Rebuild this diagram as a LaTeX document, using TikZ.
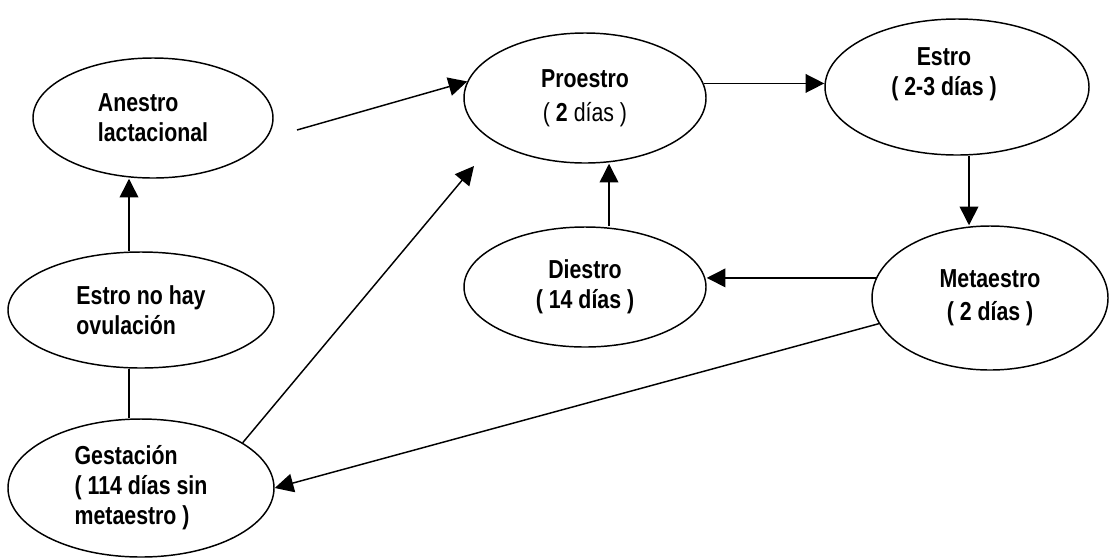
\documentclass[tikz,border=0pt]{standalone}
\usepackage{fontspec}
\setmainfont{Liberation Sans}[FakeStretch=0.82]
\usepackage{tikz}
\usetikzlibrary{shapes.geometric}
\usetikzlibrary{arrows.meta}

\begin{document}
\begin{tikzpicture}[
    x=0.75pt, y=-0.75pt,
    state/.style={draw, ellipse, line width=1.1pt, inner sep=0pt, align=center, font=\fontsize{19.5}{22.5}\selectfont\bfseries},
    arr/.style={-{Triangle[length=14pt, width=14pt]}, line width=1.1pt},
    link/.style={line width=1.1pt}
]
\useasboundingbox (0,0) rectangle (1109,558);

% --- CYCLE ---

% 1. Proestro
\node[state, minimum width=181.5pt, minimum height=97.5pt] (proestro) at (585,98)
{Proestro\\[3pt]
{\mdseries ( }2{\mdseries\ días )}};

% 2. Estro
\node[state, minimum width=198pt, minimum height=102pt] (estro) at (957,87) {};
\node[font=\fontsize{19.5}{22.5}\selectfont\bfseries, align=center] (estroT) at (944,74)
{Estro\\
( 2-3 días )};

% 3. Metaestro
\node[state, minimum width=177pt, minimum height=108pt] (metaestro) at (990,298)
{Metaestro\\[2pt]
( 2 días )};

% 4. Diestro
\node[state, minimum width=181.5pt, minimum height=90pt] (diestro) at (585,287)
{Diestro\\
( 14 días )};

% --- LEFT COLUMN ---

\node[state, align=left, minimum width=180pt, minimum height=90pt] (anestro) at (153,118)
{Anestro\\
lactacional};

\node[state, align=left, minimum width=199.5pt, minimum height=87pt] (ovul) at (141,310)
{Estro no hay\\
ovulación};

\node[state, align=left, minimum width=199.5pt, minimum height=103.5pt] (gest) at (141,488)
{Gestación\\
( 114 días sin\\
metaestro )};

% --- FREE ENDS ---
\coordinate (anOut) at (297,130);
\coordinate (proIn) at (474,166);

% --- CONNECTIONS ---

\draw[arr] (anOut) -- (proestro.172);
\draw[arr] (proestro.7) -- (proestro.7 -| estro.west);
\draw[arr] ([xshift=9pt]estro.south) -- ([xshift=9pt]estro.south |- metaestro.north);
\draw[arr] (metaestro.170) -- (metaestro.170 -| diestro.east);
\draw[arr] ([xshift=18pt]diestro.north) -- ([xshift=18pt]diestro.north |- proestro.south);

\draw[arr] ([xshift=-9pt]ovul.north) -- ([xshift=-9pt]ovul.north |- anestro.south);
\draw[link] ([xshift=-9pt]ovul.south) -- ([xshift=-9pt]ovul.south |- gest.north);

\draw[arr] (gest.24) -- (proIn);
\draw[arr] (metaestro.193) -- (gest.east);

\end{tikzpicture}
\end{document}
